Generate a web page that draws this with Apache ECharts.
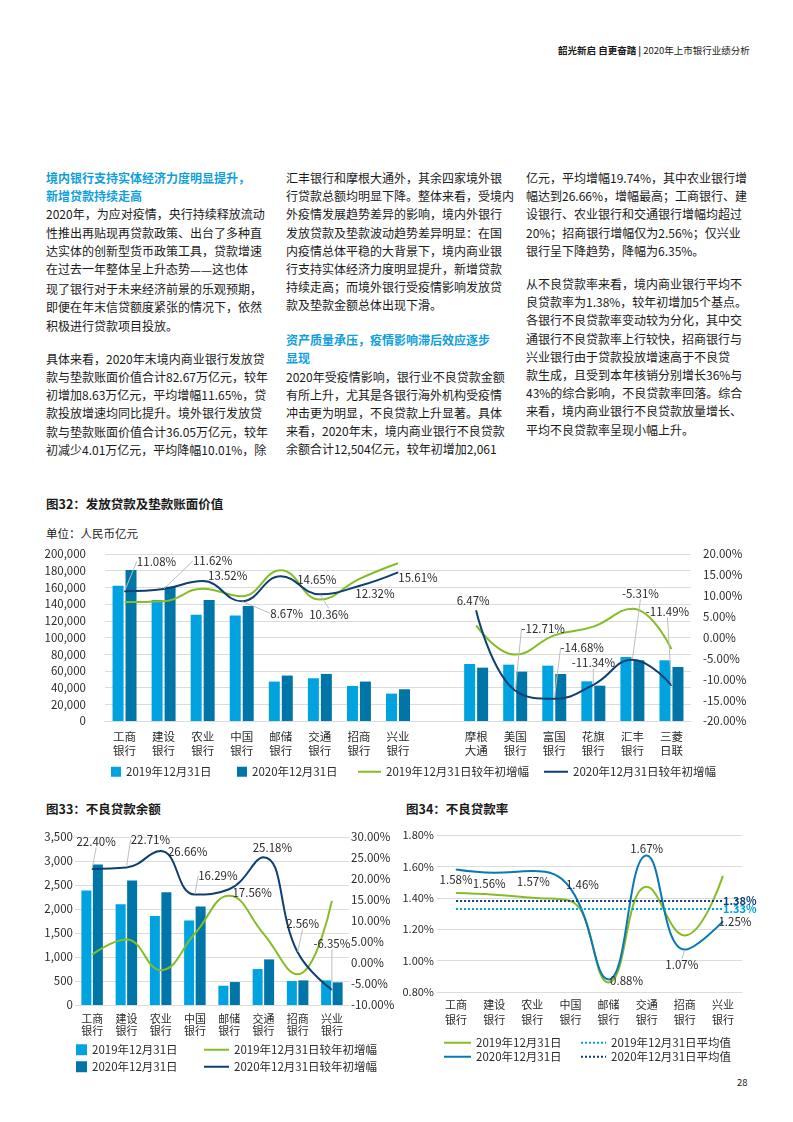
<!DOCTYPE html>
<html><head><meta charset="utf-8">
<script src="https://cdn.jsdelivr.net/npm/echarts@6/dist/echarts.min.js"></script>
<style>
body{margin:0;width:793px;height:1122px;position:relative;background:#fff;font-family:"Noto Sans CJK SC","Noto Sans",sans-serif;color:#1a1a1a;overflow:hidden}
.col{position:absolute;top:169px;font-size:12px;line-height:18.2px;white-space:nowrap}
.col p{margin:0 0 15px 0}
.h{color:#0FA0DC;font-weight:bold}
.dash{font-family:"DejaVu Sans",sans-serif;font-size:11px}
.abs{position:absolute;white-space:nowrap}
.chart{position:absolute;left:0;top:0;width:793px;height:1122px}
</style></head>
<body>
<div class="abs" style="left:558px;top:43px;font-size:9.5px;line-height:14px;"><b>韶光新启 自更奋踏 |</b> 2020年上市银行业绩分析</div>

<div class="col" style="left:46px">
<p><span class="h">境内银行支持实体经济力度明显提升，<br>新增贷款持续走高</span><br>2020年，为应对疫情，央行持续释放流动<br>性推出再贴现再贷款政策、出台了多种直<br>达实体的创新型货币政策工具，贷款增速<br>在过去一年整体呈上升态势<span class="dash">——</span>这也体<br>现了银行对于未来经济前景的乐观预期，<br>即便在年末信贷额度紧张的情况下，依然<br>积极进行贷款项目投放。</p>
<p>具体来看，2020年末境内商业银行发放贷<br>款与垫款账面价值合计82.67万亿元，较年<br>初增加8.63万亿元，平均增幅11.65%，贷<br>款投放增速均同比提升。境外银行发放贷<br>款与垫款账面价值合计36.05万亿元，较年<br>初减少4.01万亿元，平均降幅10.01%，除</p>
</div>
<div class="col" style="left:286px">
<p>汇丰银行和摩根大通外，其余四家境外银<br>行贷款总额均明显下降。整体来看，受境内<br>外疫情发展趋势差异的影响，境内外银行<br>发放贷款及垫款波动趋势差异明显：在国<br>内疫情总体平稳的大背景下，境内商业银<br>行支持实体经济力度明显提升，新增贷款<br>持续走高；而境外银行受疫情影响发放贷<br>款及垫款金额总体出现下滑。</p>
<p style="margin-top:16.5px"><span class="h">资产质量承压，疫情影响滞后效应逐步<br>显现</span><br>2020年受疫情影响，银行业不良贷款金额<br>有所上升，尤其是各银行海外机构受疫情<br>冲击更为明显，不良贷款上升显著。具体<br>来看，2020年末，境内商业银行不良贷款<br>余额合计12,504亿元，较年初增加2,061</p>
</div>
<div class="col" style="left:526px">
<p>亿元，平均增幅19.74%，其中农业银行增<br>幅达到26.66%，增幅最高；工商银行、建<br>设银行、农业银行和交通银行增幅均超过<br>20%；招商银行增幅仅为2.56%；仅兴业<br>银行呈下降趋势，降幅为6.35%。</p>
<p>从不良贷款率来看，境内商业银行平均不<br>良贷款率为1.38%，较年初增加5个基点。<br>各银行不良贷款率变动较为分化，其中交<br>通银行不良贷款率上行较快，招商银行与<br>兴业银行由于贷款投放增速高于不良贷<br>款生成，且受到本年核销分别增长36%与<br>43%的综合影响，不良贷款率回落。综合<br>来看，境内商业银行不良贷款放量增长、<br>平均不良贷款率呈现小幅上升。</p>
</div>

<div class="abs" style="left:46px;top:495px;font-size:12.5px;font-weight:bold;line-height:18px">图32：发放贷款及垫款账面价值</div>
<div class="abs" style="left:46px;top:525px;font-size:11.5px;line-height:16px">单位：人民币亿元</div>
<div class="abs" style="left:46px;top:800px;font-size:12.5px;font-weight:bold;line-height:18px">图33：不良贷款余额</div>
<div class="abs" style="left:406px;top:800px;font-size:12.5px;font-weight:bold;line-height:18px">图34：不良贷款率</div>
<div class="abs" style="left:737px;top:1075px;font-size:9.5px;line-height:14px">28</div>

<div id="c32" class="chart"></div>
<div id="c33" class="chart"></div>
<div id="c34" class="chart"></div>

<script>
// ---------- DATA ----------
const cats32 = ['工商\n银行','建设\n银行','农业\n银行','中国\n银行','邮储\n银行','交通\n银行','招商\n银行','兴业\n银行','','摩根\n大通','美国\n银行','富国\n银行','花旗\n银行','汇丰\n银行','三菱\n日联'];
const loans2019 = [162000,144800,127200,126400,47200,51200,42000,32800,null,68300,67500,66300,47500,76600,72700];
const loans2020 = [180800,160800,144800,137600,54400,56400,47200,38000,null,63900,59100,56300,42300,72700,64700];
const loanGrowth2019 = [8.5,8.7,11.7,9.9,16.1,9.1,14.0,17.8,null,2.9,-4.1,0.5,2.6,6.9,-2.8];
const loanGrowth2020 = [11.08,11.62,13.52,8.67,14.65,10.36,12.32,15.61,null,6.47,-12.71,-14.68,-11.34,-5.31,-11.49];

const cats33 = ['工商\n银行','建设\n银行','农业\n银行','中国\n银行','邮储\n银行','交通\n银行','招商\n银行','兴业\n银行'];
const npl2019 = [2385,2101,1852,1761,402,749,499,513];
const npl2020 = [2927,2594,2351,2053,478,950,513,472];
const nplGrowth2019 = [2.0,5.6,-1.7,7.0,16.0,7.0,-2.7,14.8];
const nplGrowth2020 = [22.40,22.71,26.66,16.29,17.56,25.18,2.56,-6.35];

const cats34 = ['工商\n银行','建设\n银行','农业\n银行','中国\n银行','邮储\n银行','交通\n银行','招商\n银行','兴业\n银行'];
const nplRatio2019 = [1.43,1.42,1.40,1.38,0.86,1.47,1.16,1.54];
const nplRatio2020 = [1.58,1.56,1.57,1.46,0.88,1.67,1.07,1.25];
const avgRatio2019 = 1.33;
const avgRatio2020 = 1.38;

const legendNames = {
  b19:'2019年12月31日', b20:'2020年12月31日',
  g19:'2019年12月31日较年初增幅', g20:'2020年12月31日较年初增幅',
  a19:'2019年12月31日平均值', a20:'2020年12月31日平均值'
};

// ---------- LABEL LAYOUT (styling only) ----------
const lab32 = [[32,-30],[49,-28],[25,-5],[45,12],[36,3],[9,20],[16,8],[20,5],null,[-3,-10],[28,-62],[28,-51],[0,-22],[8,-66],[-4,-74]];
const lead32 = [1,1,0,1,0,1,0,0,0,0,1,1,1,1,1];
const lab33 = [[4,-27],[24,-28],[27,1],[23,-19],[23,3],[9,-10],[5,-29],[0,-46]];
const lead33 = [1,1,0,1,0,0,1,1];
const lab34 = [[0,10.5],[-5,11],[1,11],[12,-4],[18,1],[0,-7],[-3,15],[12,0]];
const lead34 = [0,0,0,0,0,0,1,0];

const FONT = '"Noto Sans CJK SC","Noto Sans",sans-serif';
const TXT = '#2b2b2b';
const C_LB = '#00A3E0', C_DB = '#0076A8', C_GR = '#86BC25', C_NV = '#0D3F73', C_BL = '#0A78B4';
const GRIDC = '#dcdcdc';

function labeled(vals, leads){
  return vals.map((v,i)=> v==null ? null : ({value:v, labelLine:{show:!!leads[i]}}));
}
function pct(p){ return Number(p.value).toFixed(2)+'%'; }
function legendItem(name, left, top, w, h, isLine, fs){
  return {left:left, top:top, padding:0, itemGap:0, itemWidth:w, itemHeight:h, selectedMode:false,
    icon: isLine ? undefined : 'rect',
    textStyle:{fontSize:fs||11.5, color:TXT, fontFamily:FONT},
    data:[ isLine ? {name:name, itemStyle:{opacity:0}} : {name:name} ]};
}
function catAxis(data, margin, lh, fs){
  return {type:'category', data:data, axisTick:{show:false},
    axisLine:{show:true, lineStyle:{color:GRIDC, width:1}},
    axisLabel:{interval:0, margin:margin, lineHeight:lh, fontSize:fs, color:TXT, fontFamily:FONT}};
}
function valAxis(min,max,interval,fmt,margin,fs,pos,split){
  return {type:'value', min:min, max:max, interval:interval, position:pos,
    axisLine:{show:false}, axisTick:{show:false},
    splitLine:{show:split, lineStyle:{color:GRIDC, width:1.2}},
    axisLabel:{formatter:fmt, margin:margin, fontSize:fs, color:TXT, fontFamily:FONT}};
}
function labelLine(name, data, color, yIdx, offs, leads, smooth){
  return {name:name, type:'line', yAxisIndex:yIdx, data:labeled(data, leads), smooth:smooth,
    symbol:'circle', symbolSize:1, showSymbol:true, showAllSymbol:true,
    lineStyle:{color:color, width:2}, itemStyle:{color:color},
    label:{show:true, position:'inside', formatter:pct, fontSize:11.5, color:TXT, fontFamily:FONT},
    labelLine:{show:true, lineStyle:{color:'#bdbdbd', width:1}},
    labelLayout:function(p){ const o = offs[p.dataIndex]; return o ? {dx:o[0], dy:o[1]} : {}; },
    emphasis:{disabled:true}};
}
function plainLine(name, data, color, yIdx, smooth){
  return {name:name, type:'line', yAxisIndex:yIdx, data:data, smooth:smooth,
    symbol:'circle', symbolSize:1, showSymbol:false,
    lineStyle:{color:color, width:2}, itemStyle:{color:color}, emphasis:{disabled:true}};
}

// ---------- CHART 32 ----------
const ch32 = echarts.init(document.getElementById('c32'), null, {renderer:'canvas'});
ch32.setOption({
  animation:false, textStyle:{fontFamily:FONT},
  grid:{left:105, top:554, width:586, height:167, containLabel:false, outerBoundsMode:'none'},
  xAxis:catAxis(cats32, 9, 13.5, 11.5),
  yAxis:[
    valAxis(0,200000,20000,v=>v.toLocaleString('en-US'),19,11.5,'left',true),
    valAxis(-20,20,5,v=>v.toFixed(2)+'%',12,11.5,'right',false)
  ],
  legend:[
    legendItem(legendNames.b19,111,766,10,10,false),
    legendItem(legendNames.b20,237,766,10,10,false),
    legendItem(legendNames.g19,357,766,23,10,true),
    legendItem(legendNames.g20,543,766,24,10,true)
  ],
  series:[
    {name:legendNames.b19, type:'bar', data:loans2019, barWidth:11, barGap:'18%', itemStyle:{color:C_LB}, emphasis:{disabled:true}},
    {name:legendNames.b20, type:'bar', data:loans2020, barWidth:11, barGap:'18%', itemStyle:{color:C_DB}, emphasis:{disabled:true}},
    plainLine(legendNames.g19, loanGrowth2019, C_GR, 1, 0.45),
    labelLine(legendNames.g20, loanGrowth2020, C_NV, 1, lab32, lead32, 0.45)
  ]
});

// ---------- CHART 33 ----------
const ch33 = echarts.init(document.getElementById('c33'), null, {renderer:'canvas'});
ch33.setOption({
  animation:false, textStyle:{fontFamily:FONT},
  grid:{left:75, top:837, width:274, height:168, containLabel:false, outerBoundsMode:'none'},
  xAxis:catAxis(cats33, 7, 12.7, 11),
  yAxis:[
    valAxis(0,3500,500,v=>v.toLocaleString('en-US'),2,11.5,'left',true),
    valAxis(-10,30,5,v=>v.toFixed(2)+'%',2,11.5,'right',false)
  ],
  legend:[
    legendItem(legendNames.b19,76,1044,11,11,false),
    legendItem(legendNames.b20,76,1061,11,11,false),
    legendItem(legendNames.g19,203,1044,25,11,true),
    legendItem(legendNames.g20,203,1061,25,11,true)
  ],
  series:[
    {name:legendNames.b19, type:'bar', data:npl2019, barWidth:10, barGap:'15%', itemStyle:{color:C_LB}, emphasis:{disabled:true}},
    {name:legendNames.b20, type:'bar', data:npl2020, barWidth:10, barGap:'15%', itemStyle:{color:C_DB}, emphasis:{disabled:true}},
    plainLine(legendNames.g19, nplGrowth2019, C_GR, 1, 0.45),
    labelLine(legendNames.g20, nplGrowth2020, C_NV, 1, lab33, lead33, 0.45)
  ]
});

// ---------- CHART 34 ----------
function avgSeries(name, val, color, pad){
  return {name:name, type:'line', data:[], symbol:'none',
    lineStyle:{color:color, width:2, type:'dotted'}, itemStyle:{color:color},
    markLine:{silent:true, symbol:['none','none'],
      lineStyle:{color:color, width:2, type:'dotted'},
      label:{show:true, position:'end', distance:0, padding:pad, formatter:val.toFixed(2)+'%', fontWeight:'bold', fontSize:11, color:color, fontFamily:FONT},
      data:[[{xAxis:cats34[0], yAxis:val},{xAxis:cats34[cats34.length-1], yAxis:val}]]}};
}
const ch34 = echarts.init(document.getElementById('c34'), null, {renderer:'canvas'});
ch34.setOption({
  animation:false, textStyle:{fontFamily:FONT},
  grid:{left:437, top:835, width:305, height:157, containLabel:false, outerBoundsMode:'none'},
  xAxis:catAxis(cats34, 5.5, 15, 11),
  yAxis:valAxis(0.8,1.8,0.2,v=>v.toFixed(2)+'%',3,11,'left',true),
  legend:[
    legendItem(legendNames.b19,443,1037,27,11,true),
    legendItem(legendNames.b20,443,1051,27,11,true),
    legendItem(legendNames.a19,580,1037,25,11,true),
    legendItem(legendNames.a20,580,1051,25,11,true)
  ],
  series:[
    plainLine(legendNames.b19, nplRatio2019, C_GR, 0, 0.45),
    labelLine(legendNames.b20, nplRatio2020, C_BL, 0, lab34, lead34, 0.45),
    avgSeries(legendNames.a19, avgRatio2019, C_LB, [3,0,0,0]),
    avgSeries(legendNames.a20, avgRatio2020, C_NV, [0,0,11,0])
  ]
});
</script>
</body></html>
